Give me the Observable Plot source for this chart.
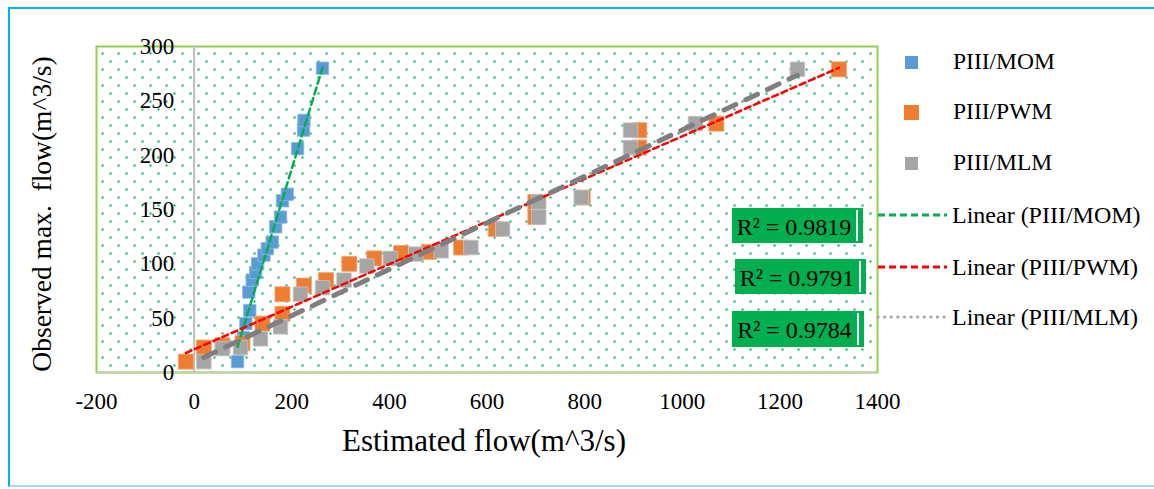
<!DOCTYPE html>
<html><head><meta charset="utf-8">
<script src="https://cdn.jsdelivr.net/npm/d3@7"></script>
<script src="https://cdn.jsdelivr.net/npm/@observablehq/plot@0.6"></script>
<style>
html,body{margin:0;padding:0;background:#fff;}
#wrap{position:relative;width:1154px;height:489px;overflow:hidden;font-family:"Liberation Serif","Times New Roman",serif;}
.abs{position:absolute;white-space:pre;color:#000;line-height:1;}
#wrap svg.main{position:absolute;left:0;top:0;}
</style></head><body><div id="wrap"></div>
<script>
// ---- data ----
const seriesNames = ["PIII/MOM", "PIII/PWM", "PIII/MLM"];
const trendNames = ["Linear (PIII/MOM)", "Linear (PIII/PWM)", "Linear (PIII/MLM)"];
const r2Labels = ["R² = 0.9819", "R² = 0.9791", "R² = 0.9784"];
const seriesColors = ["#5b9bd5", "#ed7d31", "#a5a5a5"];
const trendColors = ["#00b050", "#ff0000", "#7f7f7f"];

const momEst = [89, 95, 101, 106, 114, 112, 119, 126, 130, 143, 150, 160, 167, 177, 181, 191, 212, 224, 225, 263];
const momObs = [10, 22, 32, 45, 57, 74, 85, 92, 100, 108, 114, 120, 134, 143, 158, 164, 206, 223, 232, 280];

const pwmEst = [-17, 20, 58, 99, 140, 181, 181, 225, 270, 318, 369, 424, 482, 547, 618, 699, 699, 796, 912, 912, 1070, 1321];
const pwmObs = [10, 23, 25, 27, 45, 54, 72, 80, 85, 100, 105, 110, 111, 115, 132, 143, 157, 161, 207, 223, 229, 279];

const mlmEst = [20, 58, 95, 136, 177, 218, 263, 307, 354, 402, 454, 506, 567, 632, 706, 706, 793, 894, 894, 1027, 1236];
const mlmObs = [10, 22, 23, 31, 42, 72, 78, 85, 98, 105, 109, 112, 115, 132, 143, 157, 161, 207, 223, 229, 279];

const xTicks = [-200, 0, 200, 400, 600, 800, 1000, 1200, 1400];
const yTicks = [0, 50, 100, 150, 200, 250, 300];

const xTitle = "Estimated flow(m^3/s)";
const yTitle = "Observed max.  flow(m^3/s)";

// ---- tables ----
const toRows = (xs, ys) => xs.map((x, i) => ({x, y: ys[i]}));
const mom = toRows(momEst, momObs);
const pwm = toRows(pwmEst, pwmObs);
const mlm = toRows(mlmEst, mlmObs);

const plot = Plot.plot({
  width: 1154, height: 489,
  marginLeft: 96, marginRight: 277, marginTop: 46, marginBottom: 117,
  x: {domain: [-200, 1400], axis: null},
  y: {domain: [0, 300], axis: null},
  style: {fontFamily: '"Liberation Serif", "Times New Roman", serif', fontSize: "22px", color: "#000", background: "transparent", overflow: "visible"},
  marks: [
    Plot.frame({fill: "url(#dotgrid)", stroke: "#92d050", strokeWidth: 2}),
    Plot.ruleX([0], {stroke: "#bfbfbf", strokeWidth: 2}),
    Plot.ruleY([0], {stroke: "#c3cfae", strokeWidth: 2}),
    Plot.text(yTicks, {x: 0, y: d => d, text: d => `${d}`, textAnchor: "end", dx: -20, fontSize: 23, fill: "#000"}),
    Plot.text(xTicks, {x: d => d, frameAnchor: "bottom", lineAnchor: "middle", dy: 29, text: d => `${d}`, fontSize: 23, fill: "#000"}),
    Plot.dot(mom, {x: "x", y: "y", symbol: "square", r: 7, fill: seriesColors[0], stroke: "#8fb9e4", strokeWidth: 0.8}),
    Plot.dot(pwm, {x: "x", y: "y", symbol: "square", r: 8.5, fill: seriesColors[1], stroke: "#f3a878", strokeWidth: 0.8}),
    Plot.dot(mlm, {x: "x", y: "y", symbol: "square", r: 8.2, fill: seriesColors[2], stroke: "#c5c5c5", strokeWidth: 0.8}),
    Plot.linearRegressionY(mom, {x: "x", y: "y", ci: 0, stroke: trendColors[0], strokeWidth: 2.5, strokeDasharray: "7,4"}),
    Plot.linearRegressionY(pwm, {x: "x", y: "y", ci: 0, stroke: trendColors[1], strokeWidth: 2.5, strokeDasharray: "6,4"}),
    Plot.linearRegressionY(mlm, {x: "x", y: "y", ci: 0, stroke: trendColors[2], strokeWidth: 5, strokeDasharray: "13,11", strokeLinecap: "round"})
  ]
});
plot.classList.add("main");

// dotted pattern fill for plot area
const defs = d3.select(plot).insert("defs", ":first-child");
const pat = defs.append("pattern").attr("id", "dotgrid").attr("patternUnits", "userSpaceOnUse")
  .attr("width", 16).attr("height", 16).attr("x", 96).attr("y", 46);
pat.append("rect").attr("x", 5).attr("y", 6).attr("width", 2).attr("height", 2).attr("fill", "#00b050");
pat.append("rect").attr("x", 13).attr("y", 14).attr("width", 2).attr("height", 2).attr("fill", "#00b050");

const wrap = document.getElementById("wrap");

// outer chart border
const border = document.createElement("div");
border.style.cssText = "position:absolute;left:8px;top:7px;width:1160px;height:476px;border-left:2px solid #00b0f0;border-top:2px solid #00b0f0;border-bottom:2px solid #9fdcf5;";
wrap.appendChild(border);
wrap.appendChild(plot);

function addText(txt, left, top, size, extra = "") {
  const d = document.createElement("div");
  d.className = "abs";
  d.textContent = txt;
  d.style.cssText += `left:${left}px;top:${top}px;font-size:${size}px;${extra}`;
  wrap.appendChild(d);
  return d;
}

// axis titles
addText(xTitle, 484, 440, 31, "transform:translate(-50%,-50%);");
addText(yTitle, 42, 214, 27.5, "transform:translate(-50%,-50%) rotate(-90deg);");

// legend: markers
const legY = [62, 112, 163];
const legSize = [13, 15, 13];
seriesNames.forEach((name, i) => {
  const sq = document.createElement("div");
  const s = legSize[i];
  sq.style.cssText = `position:absolute;left:${911 - s / 2}px;top:${legY[i] - s / 2}px;width:${s}px;height:${s}px;background:${seriesColors[i]};`;
  wrap.appendChild(sq);
  addText(name, 953, legY[i], 23.5, "transform:translateY(-50%);");
});

// legend: trend lines
const trendY = [215, 267, 317];
const lsvg = d3.select(wrap).append("svg").attr("width", 1154).attr("height", 489)
  .style("position", "absolute").style("left", 0).style("top", 0);
const dashes = ["7,4", "7,4", "0.1,6.5"];
const lw = [3, 3, 3.2];
const legColors = [trendColors[0], trendColors[1], "#a5a5a5"];
trendNames.forEach((name, i) => {
  lsvg.append("line").attr("x1", 878).attr("x2", 947).attr("y1", trendY[i]).attr("y2", trendY[i])
    .attr("stroke", legColors[i]).attr("stroke-width", lw[i]).attr("stroke-dasharray", dashes[i])
    .attr("stroke-linecap", i === 2 ? "round" : "butt");
  addText(name, 952, trendY[i], 24, "transform:translateY(-50%);");
});

// R² boxes
const boxes = [
  {l: 732, t: 208, w: 131, h: 35},
  {l: 735, t: 259, w: 131, h: 35},
  {l: 732, t: 311, w: 132, h: 36}
];
boxes.forEach((b, i) => {
  const d = document.createElement("div");
  d.style.cssText = `position:absolute;left:${b.l}px;top:${b.t}px;width:${b.w}px;height:${b.h}px;background:#00b050;`;
  const gap = document.createElement("div");
  gap.style.cssText = `position:absolute;left:${b.w - 7}px;top:2px;width:2px;height:${b.h - 4}px;background:#fff;`;
  d.appendChild(gap);
  wrap.appendChild(d);
  addText(r2Labels[i], b.l + (b.w - 7) / 2, b.t + b.h / 2 + 1, 24, "transform:translate(-50%,-50%);");
});
</script></body></html>
